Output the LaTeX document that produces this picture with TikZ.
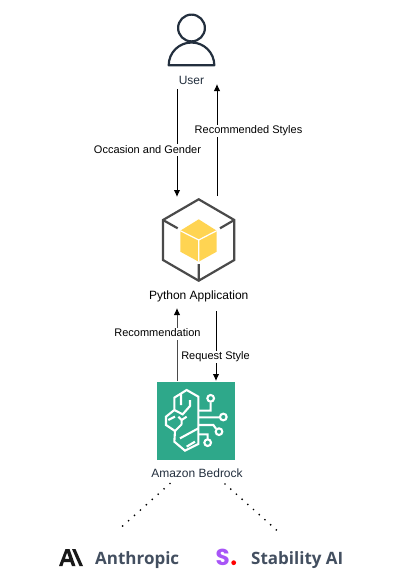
\documentclass[tikz,border=0pt]{standalone}
\usepackage{fontspec}
\setmainfont{Liberation Sans}
\newfontfamily\logofont{Open Sans}
\newfontfamily\logoS{Poppins}
\usetikzlibrary{arrows.meta}
\definecolor{usercol}{HTML}{232F3E}
\definecolor{pycol}{HTML}{4A4A4A}
\definecolor{cube}{HTML}{FFD452}
\definecolor{bed}{HTML}{2EA88A}
\definecolor{logotxt}{HTML}{434F60}
\definecolor{spurple}{HTML}{A855F7}
\tikzset{
  x=1pt,y=-1pt,
  arr/.style={-{Latex[length=7pt,width=6.5pt,color=black]},line width=0.9pt,black},
  lbl/.style={font=\fontsize{11}{13}\selectfont,text=black,fill=white,inner sep=1pt,text height=8pt,text depth=2pt},
  captxt/.style={font=\fontsize{12}{14}\selectfont,text=usercol,inner sep=0pt},
  iconbox/.style={inner sep=0pt,minimum width=#1,minimum height=#1},
  usericon/.style={draw=usercol,line width=2.2pt,line join=round},
  hex/.style={draw=pycol,line width=2.2pt,line join=miter},
  brain/.style={draw=white,line width=2.1pt,line join=miter},
  dots/.style={line width=1.9pt,line cap=round,dash pattern=on 0pt off #1},
  logoname/.style={font=\logofont\bfseries\fontsize{17}{20}\selectfont,text=logotxt,inner sep=0pt,anchor=base west},
}
\begin{document}
\begin{tikzpicture}
\useasboundingbox (0,0) rectangle (400,584);
% user
\node[iconbox=50pt] (user) at (191.5,40) {};
\draw[usericon] (191.5,28) circle (13.4);
\draw[usericon] (168.7,65.3) arc[start angle=180,end angle=360,radius=22.8] -- cycle;
\node[captxt] (userlbl) at (191.5,80) {User};
% python
\node[iconbox=80pt] (py) at (198.7,240) {};
\draw[hex] (198.7,199.3) -- (234.3,220) -- (234.3,260) -- (198.7,280.7) -- (163,260) -- (163,220) -- cycle;
\draw[hex] (163,220) -- (177.7,228.3) (234.3,220) -- (220,228.3) (198.7,280.7) -- (198.7,264);
\fill[cube] (198.7,219.3) -- (216.7,230.7) -- (216.7,251.7) -- (198.7,261.7) -- (180.3,251.7) -- (180.3,230.7) -- cycle;
\draw[white,line width=1.2pt] (180.3,230.7) -- (198.7,240) -- (216.7,230.7) (198.7,240) -- (198.7,261.7);
\node[captxt,text=black] (pylbl) at (198.7,296) {Python Application};
% bedrock
\node[fill=bed,iconbox=78pt] (bedrock) at (196,421) {};
\begin{scope}[shift={(160,385)},x=0.3333pt,y=-0.3333pt]
\draw[brain] (115,35) -- (80,15) -- (43,38) -- (43,75) -- (18,95) -- (18,120) -- (45,138) -- (43,170) -- (75,197) -- (115,177) -- cycle;
\draw[brain] (63,25) -- (63,60) (43,75) -- (68,88) -- (90,63) -- (90,45);
\draw[brain] (25,105) -- (45,95) (55,95) -- (65,105) -- (80,95) (65,105) -- (65,118) (45,138) -- (65,118);
\draw[brain] (60,160) -- (115,130) (80,185) -- (105,170);
\draw[brain] (115,77) -- (152,77) -- (152,52) (115,97) -- (180,97) (115,120) -- (160,120) -- (168,131) (115,148) -- (143,148) -- (143,162);
\draw[brain] (152,40) circle (10) (190,96) circle (10) (177,140) circle (10) (143,173) circle (10);
\end{scope}
\node[captxt] (bedlbl) at (197,473) {Amazon Bedrock};
% free ends
\coordinate (a1) at (177,89); \coordinate (a2) at (177,197);
\coordinate (b1) at (217,196); \coordinate (b2) at (217,84);
\coordinate (c1) at (177,381); \coordinate (c2) at (177,308);
\coordinate (d1) at (216,311); \coordinate (d2) at (216,381);
\coordinate (e1) at (170,483.5); \coordinate (e2) at (122,526.6);
\coordinate (f1) at (225,484); \coordinate (f2) at (277,530.5);
\draw[arr] (a1) -- (a2);
\node[lbl] (occ) at (147.5,150) {Occasion and Gender};
\draw[arr] (b1) -- (b2);
\node[lbl] (rec) at (248.5,130.7) {Recommended Styles};
\draw[arr,draw=pycol] (c1) -- (c2);
\node[lbl] (recm) at (157.5,333.7) {Recommendation};
\draw[arr] (d1) -- (d2);
\node[lbl] (req) at (215.5,356.7) {Request Style};
\draw[dots=7.95pt] (e1) -- (e2);
\draw[dots=7.65pt] (f1) -- (f2);
% logos
\fill[black!90,even odd rule] (59,566) -- (65.5,549) -- (69.5,549) -- (75.5,566) -- (72,566) -- (70.5,562) -- (63.8,562) -- (62.5,566) -- cycle (64.9,558.8) -- (69.3,558.8) -- (67.1,552.6) -- cycle;
\fill[black!90] (72,549) -- (75.5,549) -- (83,566) -- (79.5,566) -- cycle;
\node[logoname] (anth) at (95,564) {Anthropic};
\node[font=\logoS\bfseries\fontsize{23}{25}\selectfont,text=spurple,inner sep=0pt,anchor=base west] (slogo) at (215.5,565) {S};
\fill[red] (233.7,562.7) circle (2.4);
\node[logoname] (stab) at (251,564) {Stability AI};
\end{tikzpicture}
\end{document}
